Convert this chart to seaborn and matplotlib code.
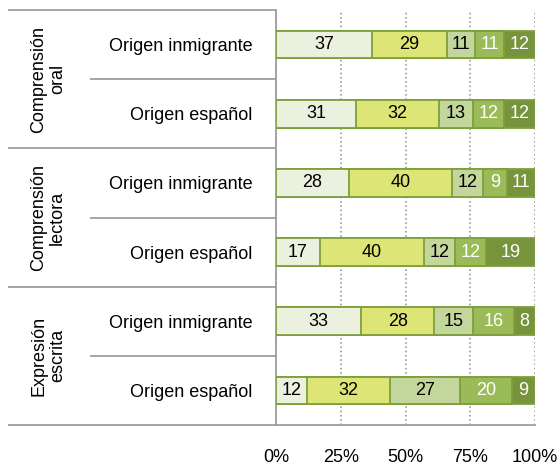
import matplotlib
matplotlib.use('Agg')
import matplotlib.pyplot as plt
import matplotlib.transforms as mtransforms
import numpy as np
import pandas as pd
import seaborn as sns

groups = ['Comprensión\noral', 'Comprensión\nlectora', 'Expresión\nescrita']
row_labels = ['Origen inmigrante', 'Origen español'] * 3

seg1 = [37, 31, 28, 17, 33, 12]
seg2 = [29, 32, 40, 40, 28, 32]
seg3 = [11, 13, 12, 12, 15, 27]
seg4 = [11, 12, 9, 12, 16, 20]
seg5 = [12, 12, 11, 19, 8, 9]

x_ticks = [0, 25, 50, 75, 100]
x_tick_labels = ['0%', '25%', '50%', '75%', '100%']

seg_colors = ['#ebf1de', '#dde576', '#c3d69b', '#9bbb59', '#77933c']
text_colors = ['black', 'black', 'black', 'white', 'white']
edge_color = '#7f9f3f'
line_color = '#9a9a9a'


def build_frame():
    segs = np.array([seg1, seg2, seg3, seg4, seg5])
    cums = segs.cumsum(axis=0)
    df = pd.DataFrame({'row': np.arange(len(row_labels))})
    for i in range(len(segs)):
        df[f'v{i}'] = segs[i]
        df[f'c{i}'] = cums[i]
    return df


def plot_stacked(df):
    sns.set_style('white')
    plt.rcParams['font.family'] = ['Liberation Sans', 'DejaVu Sans']
    plt.rcParams['text.color'] = 'black'
    fs = 13

    fig = plt.figure(figsize=(5.59, 4.65), dpi=100)
    ax = fig.add_axes([276 / 559, 1 - 425 / 465, 259 / 559, 415 / 465])

    # stacked bars: draw cumulative totals from the largest down
    for i in reversed(range(5)):
        sns.barplot(data=df, x=f'c{i}', y='row', orient='y', color=seg_colors[i],
                    saturation=1, edgecolor=edge_color, linewidth=1.3, width=0.4,
                    ax=ax, zorder=3)

    for i in range(5):
        for r in range(len(df)):
            v = df[f'v{i}'][r]
            ax.text(df[f'c{i}'][r] - v / 2, r, str(v), ha='center', va='center',
                    fontsize=fs, color=text_colors[i], zorder=4)

    ax.set_xlim(0, 100)
    ax.set_ylim(len(df) - 0.5, -0.5)
    ax.set_xlabel('')
    ax.set_ylabel('')

    ax.set_xticks(x_ticks)
    ax.set_xticklabels(x_tick_labels, fontsize=fs)
    ax.set_yticks(range(len(df)))
    ax.set_yticklabels(row_labels, fontsize=fs)
    ax.tick_params(axis='y', length=0, pad=17, labelcolor='black')
    ax.tick_params(axis='x', length=3.6, width=1.25, color=line_color, pad=14,
                   labelcolor='black')

    ax.grid(False)
    ax.xaxis.grid(True, linestyle=(0, (1, 1.8)), color='#8a8a8a', linewidth=1.1, zorder=0)
    ax.set_axisbelow(True)

    for s in ['top', 'right']:
        ax.spines[s].set_visible(False)
    for s in ['left', 'bottom']:
        ax.spines[s].set_color(line_color)
        ax.spines[s].set_linewidth(1.25)

    trans = mtransforms.blended_transform_factory(ax.transAxes, ax.transData)
    x_far = -268 / 259
    x_mid = -186 / 259
    for k in range(len(groups) + 1):
        y = 2 * k - 0.5
        ax.plot([x_far, 0], [y, y], color=line_color, lw=1.25, transform=trans,
                clip_on=False, solid_capstyle='butt')
    for k in range(len(groups)):
        y = 2 * k + 0.5
        ax.plot([x_mid, 0], [y, y], color=line_color, lw=1.25, transform=trans,
                clip_on=False, solid_capstyle='butt')
        ax.text(-228 / 259, 2 * k + 0.5, groups[k], rotation=90, ha='center',
                va='center', multialignment='center', fontsize=fs,
                linespacing=1.15, transform=trans)

    fig.savefig('out.png', dpi=100)


if __name__ == '__main__':
    data = build_frame()
    plot_stacked(data)
